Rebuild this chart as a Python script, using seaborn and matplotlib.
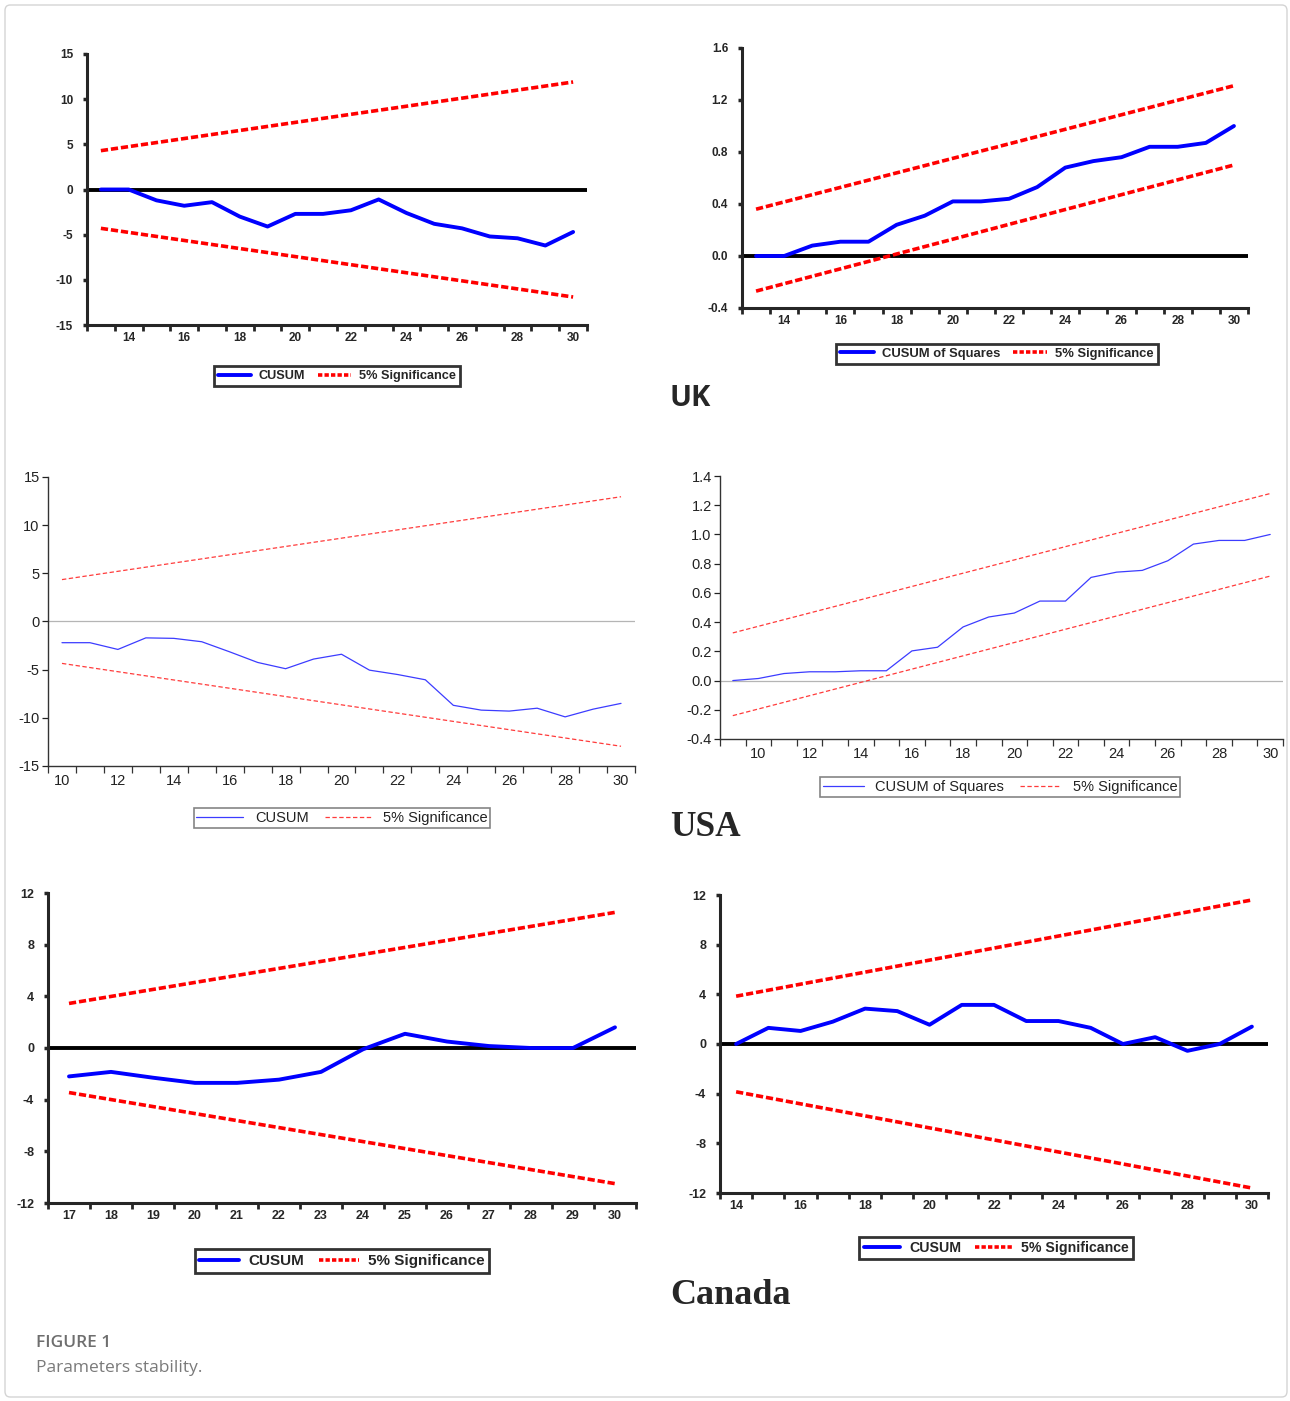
import numpy as np
import pandas as pd
import seaborn as sns
import matplotlib
matplotlib.use("Agg")
import matplotlib.pyplot as plt
from matplotlib.lines import Line2D
from matplotlib.patches import FancyBboxPatch

# ---------------- data ----------------
# UK CUSUM
uk_cusum_x = [13, 14, 15, 16, 17, 18, 19, 20, 21, 22, 23, 24, 25, 26, 27, 28, 29, 30]
uk_cusum_y = [0.0, 0.0, -1.2, -1.8, -1.4, -3.0, -4.1, -2.7, -2.7, -2.3, -1.1, -2.6,
              -3.8, -4.3, -5.2, -5.4, -6.2, -4.7]
uk_cusum_bx = [13, 30]
uk_cusum_up = [4.3, 11.9]
uk_cusum_lo = [-4.3, -11.9]

# UK CUSUM of Squares
uk_sq_x = [13, 14, 15, 16, 17, 18, 19, 20, 21, 22, 23, 24, 25, 26, 27, 28, 29, 30]
uk_sq_y = [0.0, 0.0, 0.08, 0.11, 0.11, 0.24, 0.31, 0.42, 0.42, 0.44, 0.53, 0.68,
           0.73, 0.76, 0.84, 0.84, 0.87, 1.0]
uk_sq_bx = [13, 30]
uk_sq_up = [0.36, 1.31]
uk_sq_lo = [-0.27, 0.70]

# USA CUSUM
us_cusum_x = list(range(10, 31))
us_cusum_y = [-2.2, -2.2, -2.9, -1.7, -1.75, -2.1, -3.15, -4.25, -4.9, -3.9, -3.4,
              -5.05, -5.5, -6.05, -8.7, -9.2, -9.3, -9.0, -9.9, -9.1, -8.5]
us_cusum_bx = [10, 30]
us_cusum_up = [4.35, 12.95]
us_cusum_lo = [-4.35, -12.95]

# USA CUSUM of Squares
us_sq_x = list(range(9, 31))
us_sq_y = [0.0, 0.014, 0.048, 0.06, 0.06, 0.067, 0.067, 0.203, 0.228, 0.367, 0.435,
           0.462, 0.544, 0.544, 0.706, 0.742, 0.754, 0.82, 0.934, 0.959, 0.959, 1.0]
us_sq_bx = [9, 30]
us_sq_up = [0.326, 1.28]
us_sq_lo = [-0.24, 0.715]

# Canada CUSUM (left)
ca1_x = list(range(17, 31))
ca1_y = [-2.2, -1.85, -2.3, -2.7, -2.7, -2.45, -1.85, -0.1, 1.1, 0.5, 0.15, 0.0, 0.0, 1.6]
ca1_bx = [17, 30]
ca1_up = [3.45, 10.5]
ca1_lo = [-3.45, -10.5]

# Canada CUSUM (right)
ca2_x = list(range(14, 31))
ca2_y = [0.0, 1.3, 1.05, 1.8, 2.85, 2.65, 1.55, 3.15, 3.15, 1.85, 1.85, 1.3, 0.0,
         0.55, -0.55, 0.0, 1.4]
ca2_bx = [14, 30]
ca2_up = [3.85, 11.6]
ca2_lo = [-3.85, -11.6]

# tick labels
uk_xticks = [14, 16, 18, 20, 22, 24, 26, 28, 30]
uk_cusum_yticks = [-15, -10, -5, 0, 5, 10, 15]
uk_sq_yticks = [-0.4, 0.0, 0.4, 0.8, 1.2, 1.6]
us_xticks = [10, 12, 14, 16, 18, 20, 22, 24, 26, 28, 30]
us_cusum_yticks = [-15, -10, -5, 0, 5, 10, 15]
us_sq_yticks = [-0.4, -0.2, 0.0, 0.2, 0.4, 0.6, 0.8, 1.0, 1.2, 1.4]
ca1_xticks = list(range(17, 31))
ca2_xticks = [14, 16, 18, 20, 22, 24, 26, 28, 30]
ca_yticks = [-12, -8, -4, 0, 4, 8, 12]

# ---------------- figure ----------------
sns.set_style("ticks")
plt.rcParams['font.family'] = ['Liberation Sans', 'DejaVu Sans']

W, H = 1290, 1401
fig = plt.figure(figsize=(W / 100, H / 100), dpi=100)
fig.patch.set_facecolor("white")


def rect(l, t, r, b):
    return [l / W, 1 - b / H, (r - l) / W, (b - t) / H]


border = FancyBboxPatch((5 / W, 4 / H), 1282 / W, 1392 / H,
                        boxstyle="round,pad=0,rounding_size=0.004",
                        transform=fig.transFigure, fill=False,
                        edgecolor="#d4d4d4", lw=1.0)
fig.add_artist(border)

RED = "#ff0000"
BLUE = "#0000ff"


def eviews_panel(box, x, y, bx, up, lo, xlim, ylim, xticks, yticks, yfmt,
                 label, legpos, legsize, ticksize):
    ax = fig.add_axes(rect(*box))
    df = pd.DataFrame({"x": x, "y": y})
    bdf = pd.DataFrame({"x": bx + bx, "y": up + lo, "g": ["u", "u", "l", "l"]})
    ax.axhline(0, color="black", lw=2.8, zorder=1)
    sns.lineplot(data=bdf, x="x", y="y", units="g", estimator=None, color=RED,
                 lw=2.6, dashes=False, ax=ax, zorder=3)
    for l in ax.lines[1:]:
        l.set_dashes((2.0, 0.8))
    sns.lineplot(data=df, x="x", y="y", color=BLUE, lw=2.8, ax=ax, zorder=4)
    ax.set_xlim(*xlim)
    ax.set_ylim(*ylim)
    ax.set_xticks(xticks)
    ax.set_xticks(np.arange(xlim[0], xlim[1] + 0.01, 1.0), minor=True)
    ax.set_xticklabels([str(t) for t in xticks], fontsize=ticksize,
                       fontweight="bold")
    ax.set_yticks(yticks)
    ax.set_yticklabels([yfmt.format(t) for t in yticks], fontsize=ticksize,
                       fontweight="bold")
    ax.tick_params(axis="x", which="major", length=0, pad=5)
    ax.tick_params(axis="x", which="minor", length=4, width=2, direction="out")
    ax.tick_params(axis="y", length=3, width=2.5, direction="out", pad=7)
    for s in ["top", "right"]:
        ax.spines[s].set_visible(False)
    for s in ["left", "bottom"]:
        ax.spines[s].set_linewidth(2.2)
    ax.set_xlabel("")
    ax.set_ylabel("")
    handles = [Line2D([], [], color=BLUE, lw=2.8),
               Line2D([], [], color=RED, lw=2.6, dashes=(1.2, 0.6))]
    leg = fig.legend(handles, [label, "5% Significance"], loc="center",
                     bbox_to_anchor=(legpos[0] / W, 1 - legpos[1] / H),
                     bbox_transform=fig.transFigure, ncol=2, frameon=True,
                     fancybox=False, handlelength=2.6, columnspacing=1.0,
                     handletextpad=0.6, borderpad=0.3,
                     prop={"weight": "bold", "size": legsize})
    leg.get_frame().set_edgecolor("black")
    leg.get_frame().set_linewidth(2.0)
    return ax


def clean_panel(box, x, y, bx, up, lo, xlim, ylim, xticks, yticks, yfmt,
                label, legpos, hl):
    ax = fig.add_axes(rect(*box))
    df = pd.DataFrame({"x": x, "y": y})
    bdf = pd.DataFrame({"x": bx + bx, "y": up + lo, "g": ["u", "u", "l", "l"]})
    ax.axhline(0, color="#b5b5b5", lw=0.9, zorder=1)
    sns.lineplot(data=bdf, x="x", y="y", units="g", estimator=None,
                 color="#ff3b3b", lw=0.9, ax=ax, zorder=3)
    for l in ax.lines[1:]:
        l.set_dashes((3.5, 2.0))
    sns.lineplot(data=df, x="x", y="y", color="#3c3cff", lw=0.9, ax=ax, zorder=4)
    ax.set_xlim(*xlim)
    ax.set_ylim(*ylim)
    ax.set_xticks(xticks)
    ax.set_xticks(np.arange(xlim[0], xlim[1] + 0.01, 1.0), minor=True)
    ax.set_xticklabels([str(t) for t in xticks], fontsize=10.5)
    ax.set_yticks(yticks)
    ax.set_yticklabels([yfmt.format(t) for t in yticks], fontsize=10.5)
    ax.tick_params(axis="x", which="major", length=0, pad=6, colors="#222222")
    ax.tick_params(axis="x", which="minor", length=5, width=0.9,
                   direction="out", color="#333333")
    ax.tick_params(axis="y", length=4, width=0.9, direction="out", pad=2,
                   colors="#222222")
    for s in ["top", "right"]:
        ax.spines[s].set_visible(False)
    for s in ["left", "bottom"]:
        ax.spines[s].set_linewidth(1.0)
        ax.spines[s].set_color("#333333")
    ax.set_xlabel("")
    ax.set_ylabel("")
    handles = [Line2D([], [], color="#3c3cff", lw=0.9),
               Line2D([], [], color="#ff3b3b", lw=0.9, dashes=(3.5, 2.0))]
    leg = fig.legend(handles, [label, "5% Significance"], loc="center",
                     bbox_to_anchor=(legpos[0] / W, 1 - legpos[1] / H),
                     bbox_transform=fig.transFigure, ncol=2, frameon=True,
                     fancybox=False, handlelength=hl, columnspacing=1.1,
                     handletextpad=0.8, borderpad=0.2, prop={"size": 10.5})
    leg.get_frame().set_edgecolor("#666666")
    leg.get_frame().set_linewidth(1.2)
    for t in leg.get_texts():
        t.set_color("#222222")
    return ax


# UK
eviews_panel((87, 54, 587, 325), uk_cusum_x, uk_cusum_y, uk_cusum_bx, uk_cusum_up,
             uk_cusum_lo, (12.5, 30.5), (-15, 15), uk_xticks, uk_cusum_yticks,
             "{:d}", "CUSUM", (337, 376), 9.2, 8.5)
eviews_panel((742, 48, 1248, 308), uk_sq_x, uk_sq_y, uk_sq_bx, uk_sq_up, uk_sq_lo,
             (12.5, 30.5), (-0.4, 1.6), uk_xticks, uk_sq_yticks, "{:.1f}",
             "CUSUM of Squares", (997, 354), 9.4, 8.5)

# USA
clean_panel((48, 477, 635, 766), us_cusum_x, us_cusum_y, us_cusum_bx, us_cusum_up,
            us_cusum_lo, (9.5, 30.5), (-15, 15), us_xticks, us_cusum_yticks,
            "{:d}", "CUSUM", (342, 818), 3.2)
clean_panel((720, 476, 1283, 739), us_sq_x, us_sq_y, us_sq_bx, us_sq_up, us_sq_lo,
            (8.5, 30.5), (-0.4, 1.4), us_xticks, us_sq_yticks, "{:.1f}",
            "CUSUM of Squares", (1000, 787), 2.8)

# Canada
eviews_panel((48, 893, 636, 1203), ca1_x, ca1_y, ca1_bx, ca1_up, ca1_lo,
             (16.5, 30.5), (-12, 12), ca1_xticks, ca_yticks, "{:d}", "CUSUM",
             (342, 1261), 11.0, 9.0)
eviews_panel((720, 895, 1268, 1193), ca2_x, ca2_y, ca2_bx, ca2_up, ca2_lo,
             (13.5, 30.5), (-12, 12), ca2_xticks, ca_yticks, "{:d}", "CUSUM",
             (996, 1248), 10.2, 9.0)

# country labels
fig.text(670 / W, 1 - 398 / H, "UK", fontsize=21, fontweight="bold",
         family=["Open Sans", "DejaVu Sans"], va="center", ha="left")
fig.text(670 / W, 1 - 827 / H, "USA", fontsize=25.5, fontweight="bold",
         family=["Liberation Serif", "DejaVu Serif"], va="center", ha="left")
fig.text(670 / W, 1 - 1295 / H, "Canada", fontsize=26, fontweight="bold",
         family=["Liberation Serif", "DejaVu Serif"], va="center", ha="left")

# caption
fig.text(36 / W, 1 - 1343 / H, "FIGURE 1", fontsize=12.5, fontweight="semibold",
         color="#6e6e6e", family=["Open Sans", "DejaVu Sans"], va="center")
fig.text(36 / W, 1 - 1368 / H, "Parameters stability.", fontsize=12.5,
         color="#7a7a7a", family=["Open Sans", "DejaVu Sans"], va="center")

fig.savefig("out.png", dpi=100, facecolor="white")
